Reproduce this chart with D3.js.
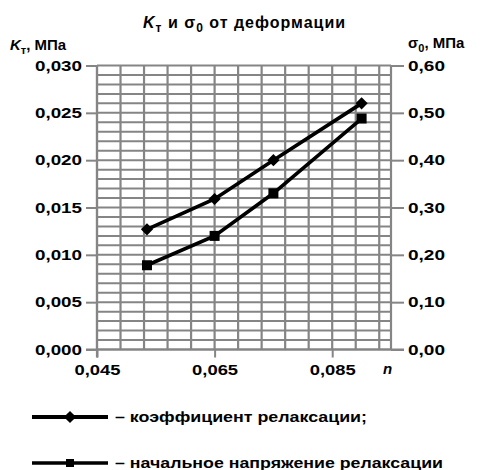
<!DOCTYPE html>
<html><head><meta charset="utf-8">
<script src="https://cdn.jsdelivr.net/npm/d3@7"></script>
<style>
body{margin:0;background:#fff;}
text{font-family:"Liberation Sans",Arial,sans-serif;font-weight:bold;fill:#000;}
</style></head>
<body><svg id="c" width="483" height="470"></svg>
<script>
const xValues = [0.0535, 0.065, 0.075, 0.090];
const kValues = [0.0127, 0.0159, 0.0200, 0.0260];
const sigmaValues = [0.178, 0.240, 0.330, 0.488];
const xTicks = [0.045, 0.065, 0.085];
const xTickLabels = ["0,045", "0,065", "0,085"];
const leftTicks = [0, 0.005, 0.010, 0.015, 0.020, 0.025, 0.030];
const leftTickLabels = ["0,000","0,005","0,010","0,015","0,020","0,025","0,030"];
const rightTicks = [0, 0.1, 0.2, 0.3, 0.4, 0.5, 0.6];
const rightTickLabels = ["0,00","0,10","0,20","0,30","0,40","0,50","0,60"];
const legendLabels = ["– коэффициент релаксации;", "– начальное напряжение релаксации"];

const svg = d3.select("#c");
const L = 97, R = 391, T = 65.5, B = 349.5;
const x = d3.scaleLinear().domain([0.045, 0.095]).range([L, R]);
const yL = d3.scaleLinear().domain([0, 0.030]).range([B, T]);
const yR = d3.scaleLinear().domain([0, 0.6]).range([B, T]);
const grid = "#858585";

// grid
const g = svg.append("g");
const vMinor = d3.range(0, 13).map(i => 0.045 + i * 0.004);
g.selectAll(".v").data(vMinor).join("line")
  .attr("x1", d => x(d)).attr("x2", d => x(d)).attr("y1", T).attr("y2", B)
  .attr("stroke", grid).attr("stroke-width", 2.2);
const hMinor = d3.range(0, 31).map(i => i * 0.001);
g.selectAll(".h").data(hMinor).join("line")
  .attr("x1", L).attr("x2", R).attr("y1", d => yL(d)).attr("y2", d => yL(d))
  .attr("stroke", grid).attr("stroke-width", 2);
g.append("line").attr("x1", R).attr("x2", R).attr("y1", T).attr("y2", B).attr("stroke", grid).attr("stroke-width", 2.2);

// axes
const axL = d3.axisLeft(yL).tickValues(leftTicks).tickFormat((d,i)=>leftTickLabels[i]).tickSize(11).tickPadding(4);
const gL = svg.append("g").attr("transform", `translate(${L},0)`).call(axL);
const axR = d3.axisRight(yR).tickValues(rightTicks).tickFormat((d,i)=>rightTickLabels[i]).tickSize(13).tickPadding(4);
const gR = svg.append("g").attr("transform", `translate(${R},0)`).call(axR);
const axB = d3.axisBottom(x).tickValues(xTicks).tickFormat((d,i)=>xTickLabels[i]).tickSize(8).tickPadding(7);
const gB = svg.append("g").attr("transform", `translate(0,${B})`).call(axB);
[gL, gR, gB].forEach(a => {
  a.selectAll("path").remove();
  a.selectAll(".tick line").attr("stroke", grid).attr("stroke-width", 2);
  a.selectAll(".tick text").style("font-size", "15px").attr("fill", "#000");
});
gL.selectAll(".tick text").attr("textLength", 47).attr("lengthAdjust", "spacingAndGlyphs");
gR.selectAll(".tick text").attr("textLength", 37).attr("lengthAdjust", "spacingAndGlyphs");
gB.selectAll(".tick text").attr("textLength", 46).attr("lengthAdjust", "spacingAndGlyphs");
svg.append("line").attr("x1", L - 11).attr("x2", R + 13).attr("y1", B).attr("y2", B).attr("stroke", grid).attr("stroke-width", 2);
svg.append("line").attr("x1", L).attr("x2", L).attr("y1", T).attr("y2", B + 8).attr("stroke", grid).attr("stroke-width", 2.2);

// series
const lineK = d3.line().x((d,i) => x(xValues[i])).y(d => yL(d));
const lineS = d3.line().x((d,i) => x(xValues[i])).y(d => yR(d));
svg.append("path").attr("d", lineK(kValues)).attr("fill", "none").attr("stroke", "#000").attr("stroke-width", 3.6);
svg.append("path").attr("d", lineS(sigmaValues)).attr("fill", "none").attr("stroke", "#000").attr("stroke-width", 3.6);
const diamond = d3.symbol().type(d3.symbolDiamond2).size(95);
svg.selectAll(".dk").data(kValues).join("path")
  .attr("d", diamond).attr("transform", (d,i) => `translate(${x(xValues[i])},${yL(d)})`).attr("fill", "#000");
svg.selectAll(".ds").data(sigmaValues).join("rect")
  .attr("x", (d,i) => x(xValues[i]) - 5).attr("y", d => yR(d) - 5)
  .attr("width", 10).attr("height", 10).attr("fill", "#000");

// title
const title = svg.append("text").attr("x", 143).attr("y", 28).style("font-size", "16px").style("letter-spacing", "1px");
title.append("tspan").text("K").style("font-style", "italic");
title.append("tspan").text("т").attr("dy", 4).style("font-size", "12px");
title.append("tspan").text(" и σ").attr("dy", -4);
title.append("tspan").text("0").attr("dy", 4).style("font-size", "12px");
title.append("tspan").text(" от деформации").attr("dy", -4);

// axis titles
const lt = svg.append("text").attr("x", 10).attr("y", 50).style("font-size", "15px");
lt.append("tspan").text("K").style("font-style", "italic");
lt.append("tspan").text("т").attr("dy", 4).style("font-size", "11px");
lt.append("tspan").text(", МПа").attr("dy", -4);
const rt = svg.append("text").attr("x", 408).attr("y", 48).style("font-size", "15px");
rt.append("tspan").text("σ");
rt.append("tspan").text("0").attr("dy", 4).style("font-size", "11px");
rt.append("tspan").text(", МПа").attr("dy", -4);
svg.append("text").attr("x", 383).attr("y", 374).style("font-size", "15px").style("font-style", "italic").text("n");

// legend
const legY = [417, 463];
legY.forEach((ly, i) => {
  svg.append("line").attr("x1", 32).attr("x2", 108).attr("y1", ly).attr("y2", ly)
    .attr("stroke", "#000").attr("stroke-width", i === 0 ? 4.2 : 3.4);
  if (i === 0) svg.append("path").attr("d", diamond).attr("transform", `translate(70,${ly})`).attr("fill", "#000");
  else svg.append("rect").attr("x", 66).attr("y", ly - 4).attr("width", 8).attr("height", 8).attr("fill", "#000");
  svg.append("text").attr("x", 115).attr("y", ly + 5).style("font-size", "15px")
    .attr("textLength", i === 0 ? 252 : 328).attr("lengthAdjust", "spacingAndGlyphs")
    .text(legendLabels[i]);
});
</script></body></html>
